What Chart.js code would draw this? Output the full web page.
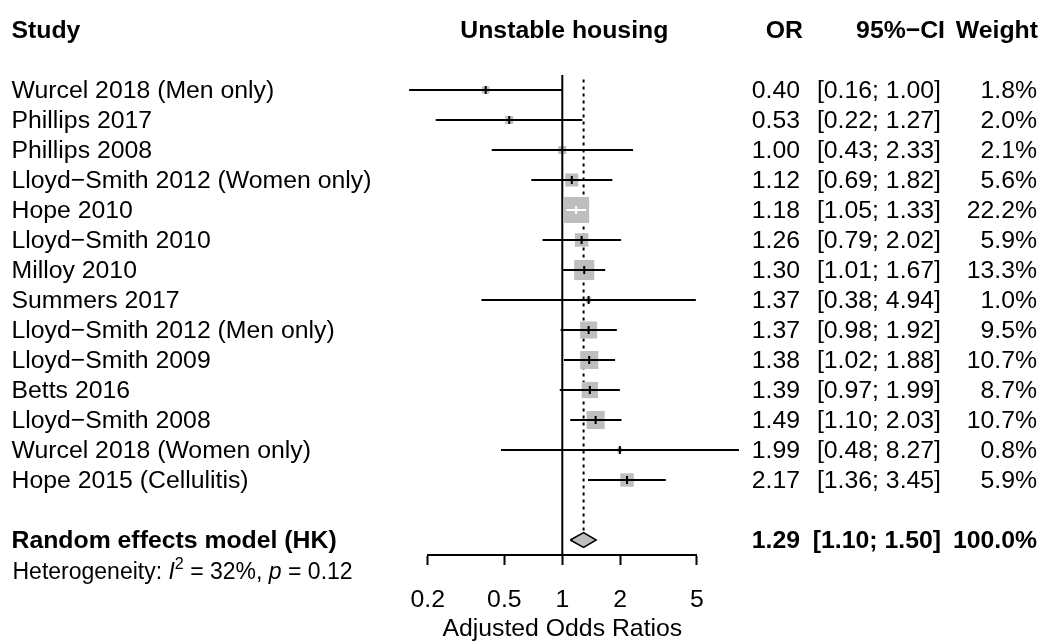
<!DOCTYPE html>
<html>
<head>
<meta charset="utf-8">
<title>Unstable housing – forest plot</title>
<script src="https://cdn.jsdelivr.net/npm/chart.js@4/dist/chart.umd.min.js"></script>
<style>
  html, body { margin: 0; padding: 0; background: #fff; }
  #wrap { width: 1040px; height: 642px; }
</style>
</head>
<body>
<div id="wrap"><canvas id="forest" width="1040" height="642"></canvas></div>
<script>
// ---- data ----
const studies = [
  "Wurcel 2018 (Men only)", "Phillips 2017", "Phillips 2008",
  "Lloyd\u2212Smith 2012 (Women only)", "Hope 2010", "Lloyd\u2212Smith 2010",
  "Milloy 2010", "Summers 2017", "Lloyd\u2212Smith 2012 (Men only)",
  "Lloyd\u2212Smith 2009", "Betts 2016", "Lloyd\u2212Smith 2008",
  "Wurcel 2018 (Women only)", "Hope 2015 (Cellulitis)"
];
const oddsRatio = [0.40, 0.53, 1.00, 1.12, 1.18, 1.26, 1.30, 1.37, 1.37, 1.38, 1.39, 1.49, 1.99, 2.17];
const ciLower   = [0.16, 0.22, 0.43, 0.69, 1.05, 0.79, 1.01, 0.38, 0.98, 1.02, 0.97, 1.10, 0.48, 1.36];
const ciUpper   = [1.00, 1.27, 2.33, 1.82, 1.33, 2.02, 1.67, 4.94, 1.92, 1.88, 1.99, 2.03, 8.27, 3.45];
const weightPct = [1.8, 2.0, 2.1, 5.6, 22.2, 5.9, 13.3, 1.0, 9.5, 10.7, 8.7, 10.7, 0.8, 5.9];

const pooledLabel  = "Random effects model (HK)";
const pooledOR     = 1.29;
const pooledLower  = 1.10;
const pooledUpper  = 1.50;
const pooledWeight = 100.0;
const hetI2 = 32;
const hetP  = 0.12;

const xTicks = [0.2, 0.5, 1, 2, 5];
const headers = { study: "Study", effect: "Unstable housing", or: "OR", ci: "95%\u2212CI", weight: "Weight" };
const axisTitle = "Adjusted Odds Ratios";

// ---- styling ----
const FONT = '"Liberation Sans", Arial, Helvetica, sans-serif';
const SIZE = 24.8;
const HET_SIZE = 23;
const GRAY = '#bebebe';
const BOX_SCALE = 5.52;        // square side (px) per sqrt(weight)
const DIAMOND_HALF = 0.25;     // half-height of summary diamond, in rows
const TEXT_DY = 1.5;           // optical nudge of table text below the row centre
const COL_STUDY = 11.5, COL_OR = 800, COL_CI = 941, COL_W = 1037;
const COL_OR_HEAD = 803, COL_CI_HEAD = 945, COL_W_HEAD = 1038;
const AXIS_HEIGHT = 87;

const pooledRow = studies.length + 1;
const boxSide = w => BOX_SCALE * Math.sqrt(w);

// CI fully covered by the square -> draw it in white
function ciInsideBox(chart, i) {
  const xs = chart.scales.x;
  const c = xs.getPixelForValue(oddsRatio[i]);
  const h = boxSide(weightPct[i]) / 2;
  return xs.getPixelForValue(ciLower[i]) >= c - h && xs.getPixelForValue(ciUpper[i]) <= c + h;
}

const fmt2 = v => v.toFixed(2);
const ciText = (lo, hi) => "[" + fmt2(lo) + "; " + fmt2(hi) + "]";

// Text columns of the forest table
const tablePlugin = {
  id: 'forestTable',
  afterDraw(chart) {
    const { ctx, chartArea } = chart;
    const ys = chart.scales.y;
    const rowY = r => ys.getPixelForValue(r) + TEXT_DY;
    ctx.save();
    ctx.fillStyle = '#000';
    ctx.textBaseline = 'middle';

    // header row
    const hy = rowY(-2);
    ctx.font = `bold ${SIZE}px ${FONT}`;
    ctx.textAlign = 'left';   ctx.fillText(headers.study, COL_STUDY, hy);
    ctx.textAlign = 'center'; ctx.fillText(headers.effect, (chartArea.left + chartArea.right) / 2 + 2, hy);
    ctx.textAlign = 'right';
    ctx.fillText(headers.or, COL_OR_HEAD, hy);
    ctx.fillText(headers.ci, COL_CI_HEAD, hy);
    ctx.fillText(headers.weight, COL_W_HEAD, hy);

    // study rows
    ctx.font = `${SIZE}px ${FONT}`;
    studies.forEach((name, i) => {
      const y = rowY(i);
      ctx.textAlign = 'left';  ctx.fillText(name, COL_STUDY, y);
      ctx.textAlign = 'right';
      ctx.fillText(fmt2(oddsRatio[i]), COL_OR, y);
      ctx.fillText(ciText(ciLower[i], ciUpper[i]), COL_CI, y);
      ctx.fillText(weightPct[i].toFixed(1) + "%", COL_W, y);
    });

    // pooled row
    const py = rowY(pooledRow);
    ctx.font = `bold ${SIZE}px ${FONT}`;
    ctx.textAlign = 'left';  ctx.fillText(pooledLabel, COL_STUDY, py);
    ctx.textAlign = 'right';
    ctx.fillText(fmt2(pooledOR), COL_OR, py);
    ctx.fillText(ciText(pooledLower, pooledUpper), COL_CI, py);
    ctx.fillText(pooledWeight.toFixed(1) + "%", COL_W, py);

    // heterogeneity line
    const hety = py + 31;
    let hx = COL_STUDY + 1;
    ctx.textAlign = 'left';
    const parts = [
      ["Heterogeneity: ", 'normal', HET_SIZE, 0],
      ["I", 'italic', HET_SIZE, 0],
      ["2", 'normal', HET_SIZE * 0.7, -8],
      [" = " + hetI2 + "%, ", 'normal', HET_SIZE, 0],
      ["p", 'italic', HET_SIZE, 0],
      [" = " + hetP.toFixed(2), 'normal', HET_SIZE, 0]
    ];
    parts.forEach(([t, style, size, dy]) => {
      ctx.font = `${style} ${size}px ${FONT}`;
      ctx.fillText(t, hx, hety + dy);
      hx += ctx.measureText(t).width;
    });
    ctx.restore();
  }
};

const rowPoints = vals => vals.map((v, i) => ({ x: v, y: i }));

new Chart(document.getElementById('forest'), {
  type: 'scatter',
  data: {
    datasets: [
      { // point-estimate marks inside the squares
        order: 0,
        data: rowPoints(oddsRatio),
        pointStyle: 'line',
        pointRotation: 90,
        pointRadius: 4,
        pointBorderWidth: 2,
        pointBorderColor: c => ciInsideBox(c.chart, c.dataIndex) ? '#fff' : '#000',
        clip: false
      },
      { // confidence intervals
        order: 1,
        data: studies.flatMap((_, i) => [
          { x: ciLower[i], y: i }, { x: ciUpper[i], y: i }, { x: null, y: null }
        ]),
        showLine: true,
        spanGaps: false,
        borderColor: '#000',
        borderWidth: 2,
        pointRadius: 0,
        segment: {
          borderColor: c => ciInsideBox(c.chart, Math.floor(c.p0DataIndex / 3)) ? '#fff' : undefined
        },
        clip: false
      },
      { // weight squares
        order: 2,
        data: rowPoints(oddsRatio),
        pointStyle: 'rect',
        pointRadius: c => boxSide(weightPct[c.dataIndex]) / Math.SQRT2,
        pointBackgroundColor: GRAY,
        pointBorderWidth: 0,
        clip: false
      },
      { // pooled estimate diamond
        order: 3,
        data: [
          { x: pooledLower, y: pooledRow },
          { x: pooledOR, y: pooledRow - DIAMOND_HALF },
          { x: pooledUpper, y: pooledRow },
          { x: pooledOR, y: pooledRow + DIAMOND_HALF },
          { x: pooledLower, y: pooledRow }
        ],
        showLine: true,
        fill: 'shape',
        backgroundColor: GRAY,
        borderColor: '#000',
        borderWidth: 1.5,
        pointRadius: 0,
        clip: false
      },
      { // line of no effect
        order: 4,
        data: [{ x: 1, y: -0.5 }, { x: 1, y: 15.5 }],
        showLine: true,
        borderColor: '#000',
        borderWidth: 2,
        pointRadius: 0,
        clip: false
      },
      { // pooled estimate reference line
        order: 4,
        data: [{ x: pooledOR, y: -0.35 }, { x: pooledOR, y: pooledRow - DIAMOND_HALF }],
        showLine: true,
        borderColor: '#000',
        borderWidth: 2,
        borderDash: [3, 4],
        pointRadius: 0,
        clip: false
      }
    ]
  },
  options: {
    responsive: false,
    animation: false,
    events: [],
    devicePixelRatio: 1,
    layout: { padding: { left: 427.75, right: 343.15, top: 75, bottom: 0 } },
    plugins: { legend: { display: false }, tooltip: { enabled: false }, title: { display: false } },
    scales: {
      x: {
        type: 'logarithmic',
        min: 0.2,
        max: 5,
        afterBuildTicks: s => { s.ticks = xTicks.map(v => ({ value: v })); },
        afterFit: s => { s.height = AXIS_HEIGHT; },
        ticks: {
          callback: v => String(v),
          color: '#000',
          font: { family: FONT, size: SIZE, lineHeight: 1 },
          padding: 22.7,
          maxRotation: 0,
          autoSkip: false
        },
        grid: { drawOnChartArea: false, drawTicks: true, tickLength: 10, tickColor: '#000', tickWidth: 2 },
        border: { display: true, color: '#000', width: 2 },
        title: {
          display: true,
          text: axisTitle,
          color: '#000',
          font: { family: FONT, size: SIZE, lineHeight: 1 },
          padding: { top: 5, bottom: 0 }
        }
      },
      y: { type: 'linear', min: -0.5, max: 15.5, reverse: true, display: false }
    }
  },
  plugins: [tablePlugin]
});
</script>
</body>
</html>
